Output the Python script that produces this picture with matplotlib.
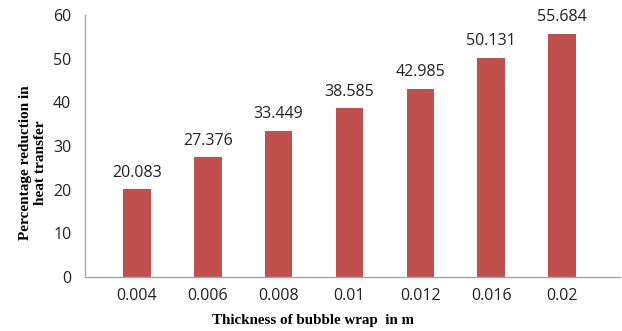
import matplotlib
matplotlib.use("Agg")
from matplotlib import pyplot as plt
import numpy as np

thickness = ["0.004", "0.006", "0.008", "0.01", "0.012", "0.016", "0.02"]
reduction = [20.083, 27.376, 33.449, 38.585, 42.985, 50.131, 55.684]

fig = plt.figure(figsize=(6.22, 3.31), dpi=100)
ax = fig.add_axes([0.137, 0.163, 0.86, 0.792])

x = np.arange(len(thickness))
bars = ax.bar(x, reduction, width=0.39, color="#C0504D", zorder=2)

for b, v in zip(bars, reduction):
    ax.text(b.get_x() + b.get_width() / 2, v + 2.0, f"{v:.3f}",
            ha="center", va="bottom", fontsize=11.5, family="Open Sans", color="#222222")

ax.set_ylim(0, 60)
ax.set_yticks(range(0, 61, 10))
ax.set_xlim(-0.73, 6.82)
ax.set_xticks(x)
ax.set_xticklabels(thickness)

for lab in ax.get_xticklabels() + ax.get_yticklabels():
    lab.set_family("Open Sans")
    lab.set_fontsize(11.5)
    lab.set_color("#222222")

ax.tick_params(axis="both", length=0)
ax.tick_params(axis="x", pad=8)
ax.tick_params(axis="y", pad=10)

for side in ["top", "right"]:
    ax.spines[side].set_visible(False)
for side in ["left", "bottom"]:
    ax.spines[side].set_color("#A6A6A6")
    ax.spines[side].set_linewidth(1.0)

# axis titles placed by hand in figure coordinates
fig.text(0.503, 0.033, "Thickness of bubble wrap  in m", family="Liberation Serif",
         fontweight="bold", fontsize=10.8, ha="center", va="center")
fig.text(0.053, 0.51, "Percentage reduction in\nheat transfer", family="Liberation Serif",
         fontweight="bold", fontsize=11, ha="center", va="center",
         rotation=90, linespacing=1.15)

fig.savefig("out.png", dpi=100)
